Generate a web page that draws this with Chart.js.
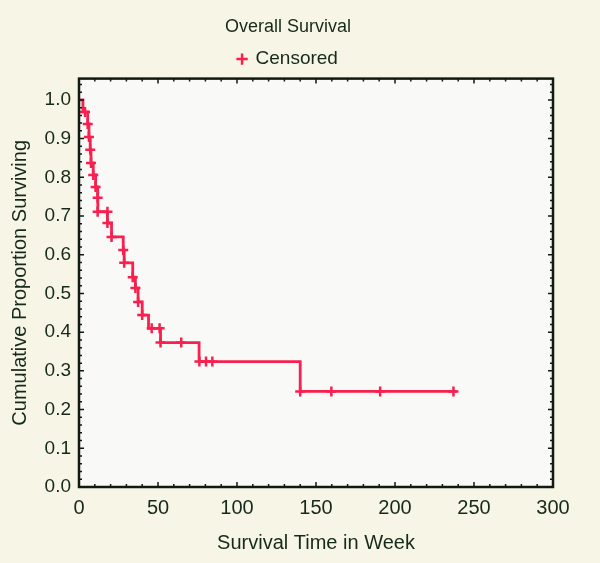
<!DOCTYPE html>
<html>
<head>
<meta charset="utf-8">
<title>Overall Survival</title>
<script src="https://cdn.jsdelivr.net/npm/chart.js@4.4.0/dist/chart.umd.min.js"></script>
<style>
    html, body { margin: 0; padding: 0; background: #f7f6e6; }
    #wrap { width: 600px; height: 563px; }
</style>
</head>
<body>
<div id="wrap"><canvas id="chart" width="600" height="563"></canvas></div>
<script>
// Kaplan-Meier step curve (time in weeks, proportion surviving after the step)
const stepTimes    = [0, 2.5, 5.5, 6.3, 7.1, 7.6, 9, 10.5, 11.8, 11.9, 18, 20.6, 28, 28.6, 34, 35.7, 37.4, 40, 44, 51.6, 76, 140, 239];
const stepSurvival = [1.0, 0.969, 0.938, 0.904, 0.871, 0.837, 0.806, 0.775, 0.747, 0.711, 0.682, 0.646, 0.612, 0.579, 0.542, 0.514, 0.478, 0.444, 0.41, 0.373, 0.324, 0.247, 0.247];

// censored marks
const censorTimes    = [3.8, 5.5, 6.3, 7.1, 7.6, 9, 10.5, 11.8, 11.8, 18, 18, 20.6, 28, 28.6, 34, 35.7, 37.4, 40, 46, 51, 51.6, 64.7, 76.2, 80.4, 84.4, 140, 159.7, 190.6, 237];
const censorSurvival = [0.969, 0.938, 0.904, 0.871, 0.837, 0.806, 0.775, 0.747, 0.711, 0.711, 0.682, 0.646, 0.612, 0.579, 0.542, 0.514, 0.478, 0.444, 0.41, 0.41, 0.373, 0.373, 0.324, 0.324, 0.324, 0.247, 0.247, 0.247, 0.247];

const xTicks = [0, 50, 100, 150, 200, 250, 300];
const yTicks = [0, 0.1, 0.2, 0.3, 0.4, 0.5, 0.6, 0.7, 0.8, 0.9, 1.0];

const curveColor = '#f7204f';
const textColor = '#17291a';
const fontFamily = '"Liberation Sans", Arial, sans-serif';

// plot background, black frame and inward tick marks
const plotFrame = {
    id: 'plotFrame',
    beforeDatasetsDraw(chart) {
        const {ctx, chartArea: a} = chart;
        ctx.save();
        ctx.fillStyle = '#f9f9f7';
        ctx.fillRect(a.left, a.top, a.right - a.left, a.bottom - a.top);
        ctx.restore();
    },
    afterDatasetsDraw(chart) {
        const {ctx, chartArea: a, scales} = chart;
        ctx.save();
        ctx.strokeStyle = '#101a10';
        ctx.lineWidth = 1.5;
        // x ticks, minor every 10
        for (let v = 0; v <= 300; v += 10) {
            const px = scales.x.getPixelForValue(v);
            const len = v % 50 === 0 ? 5 : 3;
            ctx.beginPath();
            ctx.moveTo(px, a.bottom); ctx.lineTo(px, a.bottom - len);
            ctx.moveTo(px, a.top); ctx.lineTo(px, a.top + len);
            ctx.stroke();
        }
        // y ticks, minor every 0.02
        for (let i = 0; i <= 52; i++) {
            const py = scales.y.getPixelForValue(i * 0.02);
            const len = i % 5 === 0 ? 5 : 3;
            ctx.beginPath();
            ctx.moveTo(a.left, py); ctx.lineTo(a.left + len, py);
            ctx.moveTo(a.right, py); ctx.lineTo(a.right - len, py);
            ctx.stroke();
        }
        ctx.lineWidth = 2.5;
        ctx.strokeRect(a.left, a.top, a.right - a.left, a.bottom - a.top);
        ctx.restore();
    }
};

const ctx = document.getElementById('chart').getContext('2d');
new Chart(ctx, {
    type: 'scatter',
    data: {
        datasets: [{
            label: 'Overall Survival',
            data: stepTimes.map((t, i) => ({x: t, y: stepSurvival[i]})),
            showLine: true,
            stepped: 'before',
            borderColor: curveColor,
            borderWidth: 2.8,
            pointRadius: 0,
            pointHoverRadius: 0
        }, {
            label: 'Censored',
            data: censorTimes.map((t, i) => ({x: t, y: censorSurvival[i]})),
            showLine: false,
            pointStyle: 'cross',
            pointRadius: 5,
            pointBorderWidth: 2.5,
            borderColor: curveColor,
            backgroundColor: curveColor
        }]
    },
    options: {
        responsive: false,
        animation: false,
        layout: { padding: { left: 0, right: 24, top: 0, bottom: 0 } },
        plugins: {
            title: {
                display: true,
                text: 'Overall Survival',
                color: textColor,
                font: { family: fontFamily, size: 18, weight: 'normal' },
                padding: { top: 16, bottom: 0 }
            },
            legend: {
                display: true,
                labels: {
                    filter: item => item.datasetIndex === 1,
                    usePointStyle: true,
                    boxWidth: 8,
                    boxHeight: 8,
                    color: textColor,
                    font: { family: fontFamily, size: 19 },
                    padding: 12
                }
            },
            tooltip: { enabled: false }
        },
        scales: {
            x: {
                type: 'linear',
                min: 0,
                max: 300,
                afterBuildTicks: s => { s.ticks = xTicks.map(v => ({value: v})); },
                afterFit: s => { s.height = 76; s.paddingRight = 47; },
                ticks: {
                    color: textColor,
                    font: { family: fontFamily, size: 20 },
                    padding: 9,
                    maxRotation: 0,
                    autoSkip: false
                },
                grid: { display: false, drawTicks: false },
                border: { display: false },
                title: {
                    display: true,
                    text: 'Survival Time in Week',
                    color: textColor,
                    font: { family: fontFamily, size: 20 },
                    padding: { top: 4, bottom: 8 }
                }
            },
            y: {
                type: 'linear',
                min: 0,
                max: 1.055,
                afterBuildTicks: s => { s.ticks = yTicks.map(v => ({value: v})); },
                afterFit: s => { s.width = 79; },
                ticks: {
                    color: textColor,
                    font: { family: fontFamily, size: 19 },
                    padding: 8,
                    callback: v => v.toFixed(1)
                },
                grid: { display: false, drawTicks: false },
                border: { display: false },
                title: {
                    display: true,
                    text: 'Cumulative Proportion Surviving',
                    color: textColor,
                    font: { family: fontFamily, size: 20 },
                    padding: { top: 8, bottom: 4 }
                }
            }
        }
    },
    plugins: [plotFrame]
});
</script>
</body>
</html>
